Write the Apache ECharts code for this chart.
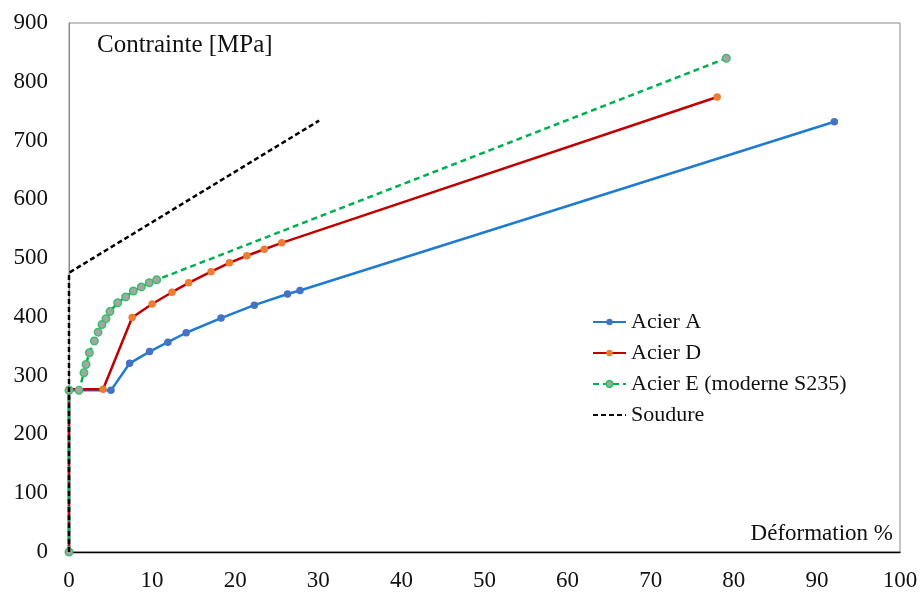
<!DOCTYPE html>
<html><head><meta charset="utf-8">
<script src="https://cdn.jsdelivr.net/npm/echarts@6/dist/echarts.min.js"></script>
<style>html,body{margin:0;padding:0;background:#fff}#c{width:923px;height:592px}</style>
</head><body><div id="c"></div>
<script>
const xTicks = [0,10,20,30,40,50,60,70,80,90,100];
const yTicks = [0,100,200,300,400,500,600,700,800,900];
const acierA = [[0,0],[0,275],[5.05,275],[7.3,321],[9.7,341],[11.9,357],[14.1,373],[18.3,398],[22.3,420],[26.3,439],[27.8,445],[92.1,732]];
const acierD = [[0,0],[0,277],[4.1,277],[7.6,399],[10.0,422],[12.4,442],[14.4,458],[17.1,477],[19.3,492],[21.4,504],[23.5,515],[25.6,526],[78.0,774]];
const acierE = [[0,0],[0,275],[1.2,275],[1.8,305],[2.05,319],[2.45,339],[3.05,359],[3.5,374],[3.97,387],[4.45,397],[4.93,409],[5.86,424],[6.82,434],[7.74,444],[8.7,451],[9.66,458],[10.55,463],[79.1,840]];
const soudure = [[0,0],[0,475],[30.1,734]];
const names = ['Acier A','Acier D','Acier E (moderne S235)','Soudure'];

const font = '"Liberation Serif","Times New Roman",serif';
const chart = echarts.init(document.getElementById('c'), null, {renderer:'canvas'});
chart.setOption({
  animation:false,
  backgroundColor:'#fff',
  grid:{left:69,right:23,top:23,bottom:40,show:true,borderColor:'#888',borderWidth:1,containLabel:false,outerBoundsMode:'none'},
  xAxis:{type:'value',min:0,max:100,interval:10,
    axisLine:{show:true,onZero:false,lineStyle:{color:'#000',width:1.3}},
    axisTick:{show:false},splitLine:{show:false},
    axisLabel:{margin:17,fontFamily:font,fontSize:23,color:'#111',formatter:v=>xTicks.includes(v)?String(v):''}},
  yAxis:{type:'value',min:0,max:900,interval:100,
    axisLine:{show:true,lineStyle:{color:'#888',width:1}},
    axisTick:{show:false},splitLine:{show:false},
    axisLabel:{margin:21,fontFamily:font,fontSize:23,color:'#111',formatter:v=>yTicks.includes(v)?String(v):''}},
  legend:{orient:'vertical',left:587,top:306,itemWidth:33,itemHeight:8,itemGap:9,
    textStyle:{fontFamily:font,fontSize:22,color:'#111'},
    data:[names[0],names[1],names[2],{name:names[3],itemStyle:{opacity:0}}]},
  graphic:[
    {type:'text',left:97,top:33,style:{text:'Contrainte [MPa]',font:'25px '+font,fill:'#111'}},
    {type:'text',right:30,top:522,style:{text:'Déformation %',font:'23px '+font,fill:'#111'}}
  ],
  series:[
    {name:names[0],type:'line',data:acierA,symbol:'circle',symbolSize:7.5,z:2,
      lineStyle:{color:'#1f7bd0',width:2.5},itemStyle:{color:'#4472C4'}},
    {name:names[1],type:'line',data:acierD,symbol:'circle',symbolSize:7.5,z:3,
      lineStyle:{color:'#C00000',width:2.5},itemStyle:{color:'#ED7D31'}},
    {name:names[2],type:'line',data:acierE,symbol:'circle',symbolSize:7.5,z:4,
      lineStyle:{color:'#00B050',width:2.5,type:[6,4]},itemStyle:{color:'#A5A5A5',borderColor:'#3cbf6a',borderWidth:1.5}},
    {name:names[3],type:'line',data:soudure,symbol:'none',z:5,
      lineStyle:{color:'#000',width:2.5,type:[5,3]},itemStyle:{color:'#000'}}
  ]
});
</script></body></html>
